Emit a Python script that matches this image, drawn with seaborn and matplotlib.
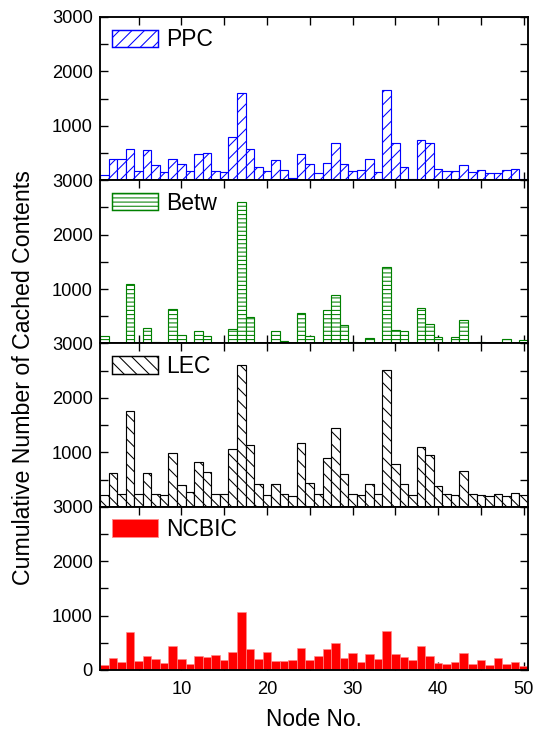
import numpy as np
import pandas as pd
import matplotlib
matplotlib.use("Agg")
import matplotlib.pyplot as plt
from matplotlib.ticker import FixedLocator
import seaborn as sns

nodes = list(range(1, 51))

ppc = [100, 390, 390, 570, 165, 560, 285, 155, 395, 300,
       165, 475, 500, 165, 155, 800, 1600, 580, 245, 175,
       365, 190, 45, 475, 300, 135, 310, 690, 300, 175,
       185, 390, 150, 1655, 690, 240, 20, 740, 685, 210,
       175, 175, 285, 155, 185, 135, 125, 185, 205, 30]

betw = [135, 0, 0, 1100, 0, 280, 30, 0, 640, 160,
        0, 235, 130, 10, 0, 260, 2600, 490, 0, 0,
        235, 45, 0, 565, 135, 15, 620, 885, 345, 30,
        0, 100, 0, 1410, 250, 230, 0, 650, 360, 125,
        0, 110, 435, 10, 30, 0, 0, 85, 10, 60]

lec = [210, 620, 225, 1760, 225, 620, 225, 210, 990, 400,
       270, 815, 640, 225, 225, 1055, 2610, 1135, 410, 210,
       410, 225, 190, 1170, 435, 225, 895, 1455, 605, 225,
       210, 425, 225, 2510, 785, 415, 220, 1090, 950, 385,
       225, 210, 655, 225, 220, 200, 225, 195, 245, 220]

ncbic = [90, 215, 145, 700, 160, 265, 210, 130, 435, 200,
         110, 265, 240, 275, 190, 335, 1065, 385, 195, 330,
         165, 165, 190, 400, 180, 260, 380, 505, 225, 305,
         155, 290, 200, 720, 295, 240, 185, 440, 260, 135,
         110, 155, 305, 110, 180, 90, 220, 105, 145, 75]

series_names = ["PPC", "Betw", "LEC", "NCBIC"]
series_values = [ppc, betw, lec, ncbic]

styles = {
    "PPC":   dict(color="white", edgecolor="#0000ff", hatch="//", linewidth=1.1),
    "Betw":  dict(color="white", edgecolor="#008000", hatch="---", linewidth=1.1),
    "LEC":   dict(color="white", edgecolor="black", hatch="\\\\", linewidth=1.1),
    "NCBIC": dict(color="#ff0000", edgecolor="#ff8a8a", hatch=None, linewidth=0.6),
}

sns.set_style("ticks")
plt.rcParams["font.family"] = ["Liberation Sans", "DejaVu Sans"]
plt.rcParams["hatch.linewidth"] = 1.0
for key in ["text.color", "axes.labelcolor", "xtick.color", "ytick.color",
            "xtick.labelcolor", "ytick.labelcolor"]:
    plt.rcParams[key] = "black"

DPI = 75
fig, axes = plt.subplots(4, 1, figsize=(536 / DPI, 734 / DPI), dpi=DPI, sharex=True)
fig.subplots_adjust(left=0.1866, right=0.985, top=0.977, bottom=0.0872, hspace=0)

for i, (ax, name, vals) in enumerate(zip(axes, series_names, series_values)):
    df = pd.DataFrame({"Node": nodes, "Value": vals})
    st = styles[name]
    sns.barplot(data=df, x="Node", y="Value", native_scale=True, width=1.0,
                errorbar=None, saturation=1, ax=ax, color=st["color"])
    for p in ax.patches:
        p.set_facecolor(st["color"])
        p.set_edgecolor(st["edgecolor"])
        p.set_linewidth(st["linewidth"])
        if st["hatch"]:
            p.set_hatch(st["hatch"])
    ax.set_xlim(0.5, 50.5)
    ax.set_ylim(0, 3000)
    ax.set_xlabel("")
    ax.set_ylabel("")
    ax.yaxis.set_major_locator(FixedLocator([0, 1000, 2000, 3000]))
    ax.yaxis.set_minor_locator(FixedLocator([500, 1500, 2500]))
    if i < 3:
        ax.set_yticklabels(["", "1000", "2000", "3000"])
    else:
        ax.set_yticklabels(["0", "1000", "2000", "3000"])
    ax.xaxis.set_major_locator(FixedLocator([10, 20, 30, 40, 50]))
    ax.xaxis.set_minor_locator(FixedLocator([5, 15, 25, 35, 45]))
    ax.tick_params(which="both", direction="in", top=True, right=True,
                   length=8, width=1.3, labelsize=17.5, colors="black")
    ax.tick_params(axis="y", pad=7)
    ax.tick_params(axis="x", pad=11)
    for sp in ax.spines.values():
        sp.set_visible(True)
        sp.set_linewidth(1.8)
        sp.set_color("black")
    handle = plt.Rectangle((0, 0), 1, 1, facecolor=st["color"], edgecolor=st["edgecolor"],
                           hatch=st["hatch"], linewidth=st["linewidth"] + 0.3)
    ax.legend([handle], [name], loc="upper left", bbox_to_anchor=(0.028, 0.93),
              frameon=False, fontsize=22, handlelength=2.0, handleheight=0.8,
              handletextpad=0.35, borderpad=0, borderaxespad=0, labelcolor="black")

axes[-1].set_xlabel("Node No.", fontsize=21.7, labelpad=9, color="black")
fig.text(0.043, 0.486, "Cumulative Number of Cached Contents",
         rotation=90, ha="center", va="center", fontsize=22.2, color="black")

fig.savefig("out.png", dpi=DPI)
